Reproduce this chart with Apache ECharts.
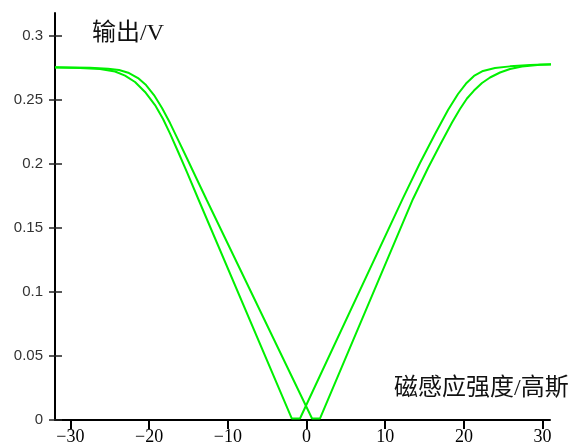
<!DOCTYPE html>
<html>
<head>
<meta charset="utf-8">
<script src="https://cdn.jsdelivr.net/npm/echarts@6/dist/echarts.min.js"></script>
<style>html,body{margin:0;padding:0;background:#fff}#c{width:568px;height:448px}</style>
</head>
<body>
<div id="c"></div>
<script>
// Tick values and labels
const xTickValues = [-30, -20, -10, 0, 10, 20, 30];
const xTickLabels = ['−30', '−20', '−10', '0', '10', '20', '30'];
const yTickValues = [0, 0.05, 0.1, 0.15, 0.2, 0.25, 0.3];
const yTickLabels = ['0', '0.05', '0.1', '0.15', '0.2', '0.25', '0.3'];
const yAxisName = '输出/V';
const xAxisName = '磁感应强度/高斯';

// Curve A (minimum left of zero): magnetic field (Gauss) and output (V)
const fieldA = [-31.96, -28.78, -26.24, -24.33, -23.06, -21.79, -20.52, -19.25, -18.23, -17.34, -16.33, -15.18, -13.70, -1.88, -0.83,
  12.26, 14.42, 16.33, 17.98, 19.25, 20.27, 21.28, 22.43, 23.95, 25.86, 28.40, 32.21];
const outputA = [0.2754, 0.2750, 0.2742, 0.2723, 0.2691, 0.2641, 0.2563, 0.2461, 0.2352, 0.2238, 0.2098, 0.1934, 0.1719, 0.0012, 0.0012,
  0.1734, 0.2008, 0.2234, 0.2422, 0.2547, 0.2629, 0.2688, 0.2727, 0.2750, 0.2763, 0.2773, 0.2781];

// Curve B (minimum right of zero)
const fieldB = [-31.96, -27.51, -25.22, -23.82, -22.55, -21.41, -20.39, -19.38, -18.36, -17.34, -16.33, -15.18, -14.04, -12.68, 0.70, 1.72,
  13.53, 15.44, 16.96, 18.49, 19.50, 20.39, 21.28, 22.30, 23.32, 24.59, 25.86, 27.38, 29.67, 32.21];
const outputB = [0.2756, 0.2752, 0.2745, 0.2734, 0.2711, 0.2672, 0.2617, 0.2539, 0.2438, 0.2320, 0.2191, 0.2043, 0.1895, 0.1719, 0.0012, 0.0012,
  0.1727, 0.1969, 0.2148, 0.2324, 0.2430, 0.2512, 0.2574, 0.2633, 0.2676, 0.2715, 0.2742, 0.2762, 0.2775, 0.2781];

const pairs = (xs, ys) => xs.map((x, i) => [x, ys[i]]);

const chart = echarts.init(document.getElementById('c'), null, {renderer: 'canvas'});
chart.setOption({
  animation: false,
  backgroundColor: '#fff',
  grid: {left: 55, right: 18, top: 13, bottom: 28, containLabel: false},
  xAxis: {
    type: 'value', min: -31.96, max: 30.94,
    axisLine: {show: true, onZero: false, lineStyle: {color: '#000', width: 2}},
    axisTick: {show: true, inside: false, length: 9, lineStyle: {color: '#000', width: 2}, customValues: xTickValues},
    axisLabel: {
      customValues: xTickValues, margin: 8,
      fontFamily: 'Liberation Serif', fontSize: 18, color: '#000',
      formatter: v => { const i = xTickValues.indexOf(Math.round(v)); return i >= 0 ? xTickLabels[i] : ''; }
    },
    splitLine: {show: false}
  },
  yAxis: [{
    type: 'value', min: 0, max: 0.318,
    axisLine: {show: true, onZero: false, lineStyle: {color: '#000', width: 2}},
    axisTick: {show: true, inside: false, length: 6, lineStyle: {color: '#222', width: 1.5}, customValues: yTickValues},
    axisLabel: {
      customValues: yTickValues, margin: 12,
      fontFamily: 'Liberation Sans', fontSize: 15, color: '#333',
      formatter: v => { const i = yTickValues.findIndex(t => Math.abs(t - v) < 1e-6); return i >= 0 ? yTickLabels[i] : ''; }
    },
    splitLine: {show: false}
  }, {
    type: 'value', min: 0, max: 0.318, position: 'left',
    axisLine: {show: false, onZero: false},
    axisTick: {show: true, inside: true, length: 7, lineStyle: {color: '#222', width: 1.5}, customValues: yTickValues},
    axisLabel: {show: false},
    splitLine: {show: false}
  }],
  series: [
    {type: 'line', data: pairs(fieldA, outputA), showSymbol: false, symbol: 'none', clip: false,
      lineStyle: {color: '#00f000', width: 2}, z: 3},
    {type: 'line', data: pairs(fieldB, outputB), showSymbol: false, symbol: 'none', clip: false,
      lineStyle: {color: '#00f000', width: 2}, z: 3}
  ],
  graphic: [
    {type: 'text', left: 92, top: 22, style: {text: yAxisName, fontFamily: 'Liberation Serif, Noto Sans CJK SC', fontSize: 24, fill: '#111'}},
    {type: 'text', left: 394, top: 377, style: {text: xAxisName, fontFamily: 'Liberation Serif, Noto Sans CJK SC', fontSize: 24, fill: '#111'}}
  ]
});
</script>
</body>
</html>
